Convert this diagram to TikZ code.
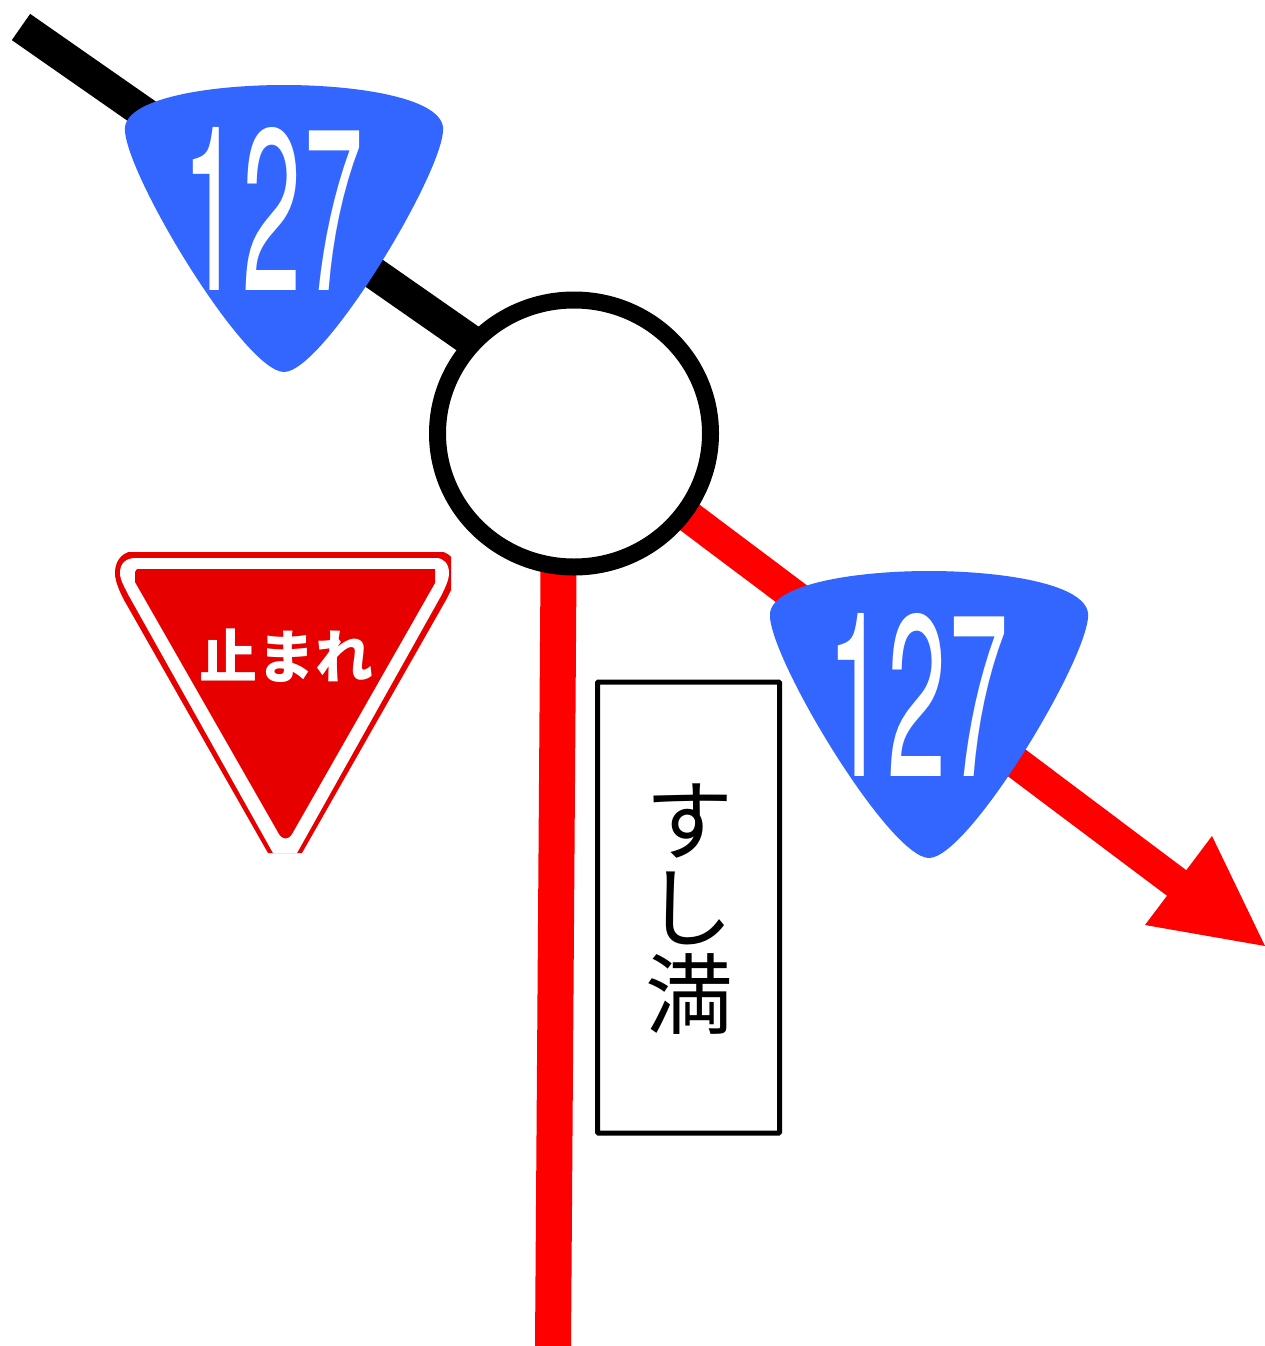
\documentclass[tikz,border=0pt]{standalone}
\usepackage{graphicx}
\usepackage{fontspec}
\setmainfont{TeX Gyre Heros}
\newfontfamily\cjk{Noto Sans CJK JP}
\usetikzlibrary{positioning,shapes.geometric}
\definecolor{shieldblue}{RGB}{51,102,255}
\definecolor{stopred}{RGB}{230,0,0}
\tikzset{
  road/.style={line width=32pt},
  shieldnum/.style={text=white, inner sep=0pt},
  junction/.style={ellipse, draw=black, fill=white, line width=17pt, minimum width=273pt, minimum height=267pt, inner sep=0pt},
}
% one length unit = one reference pixel
\newcommand{\roadshield}[3]{%
  \begin{scope}[shift={(#1,#2)}]
  \fill[shieldblue] (0,0) .. controls (-70,0) and (-155,12) .. (-159,42)
    .. controls (-163,82) and (-40,287) .. (0,287)
    .. controls (40,287) and (163,82) .. (159,42)
    .. controls (155,12) and (70,0) .. (0,0) -- cycle;
  \node[shieldnum] (#3) at (-11.3,124) {\scalebox{1.06}[2.3]{\fontsize{100}{100}\selectfont 1\kern1.4pt 2\kern2.8pt 7}};
  \end{scope}}
\begin{document}
\begin{tikzpicture}[x=1pt,y=-1pt]
\useasboundingbox (0,0) rectangle (1264,1346);

% named ends of the roads
\coordinate (nwend) at (21,27);
\coordinate (nwjoin) at (520,375);
\coordinate (sstart) at (553,1346);
\coordinate (sjoin) at (559,500);
\coordinate (sejoin) at (640,480);
\coordinate (arrowbase) at (1178,884);
\coordinate (arrowtip) at (1265,946);

% roads
\draw[road,black] (nwend) -- (nwjoin);
\draw[road,red,line width=36pt] (sstart) -- (sjoin);
\draw[road,red] (sejoin) -- (arrowbase);
\fill[red] (1212,836) -- (arrowtip) -- (1145,925) -- cycle;

% junction
\node[junction] (junc) at (574,433.5) {};

% route shields
\roadshield{284}{85}{shieldnw}
\roadshield{929}{571}{shieldse}

% stop sign
\begin{scope}
\clip (100,552) rectangle (451,853);
\fill[stopred] (115,573) .. controls (115,558) and (125,551) .. (135,551) -- (436,551)
  .. controls (450,551) and (456,560) .. (456,573) .. controls (456,582) and (450,592) .. (446,600)
  -- (302,853) -- (268,853) -- (124,600)
  .. controls (120,592) and (115,582) .. (115,573) -- cycle;
\fill[white] (120,573) .. controls (120,563) and (126,558) .. (136,558) -- (436,558)
  .. controls (444,558) and (449,564) .. (449,573) .. controls (449,580) and (445,588) .. (441,596)
  -- (297,853) -- (273,853) -- (129,596)
  .. controls (125,588) and (120,580) .. (120,573) -- cycle;
\end{scope}
\fill[stopred] (137,569) -- (435,569) -- (435,583) -- (292,834)
  .. controls (288,840) and (283,840) .. (279,834) -- (135,582) -- (135,572) -- cycle;
\node[font=\cjk\bfseries\fontsize{58}{58}\selectfont, text=white, inner sep=0pt] (stoptext) at (286,656) {止まれ};

% place name board
\node[draw=black, line width=5pt, fill=white, rounded corners=1pt, minimum width=182pt, minimum height=451pt, inner sep=0pt] (board) at (688.5,907.5) {};
\node[font=\cjk\fontsize{88}{87}\selectfont, align=center, inner sep=0pt] (boardtext) at (689,909) {す\\し\\満};

\end{tikzpicture}
\end{document}
